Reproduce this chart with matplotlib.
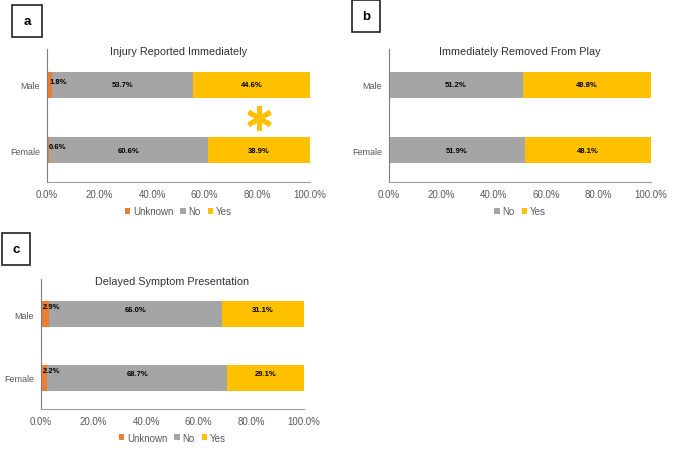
import matplotlib.pyplot as plt

plt.rcParams['font.family'] = ['Liberation Sans', 'DejaVu Sans']

groups = ["Female", "Male"]

# panel a: Injury Reported Immediately
a_unknown = [0.6, 1.8]
a_no = [60.6, 53.7]
a_yes = [38.9, 44.6]

# panel b: Immediately Removed From Play
b_no = [51.9, 51.2]
b_yes = [48.1, 48.8]

# panel c: Delayed Symptom Presentation
c_unknown = [2.2, 2.9]
c_no = [68.7, 66.0]
c_yes = [29.1, 31.1]

ORANGE = "#ED7D31"
GRAY = "#A5A5A5"
YELLOW = "#FFC000"
TXT = "#595959"

W, H = 676, 452
fig = plt.figure(figsize=(W / 100, H / 100), dpi=100)


def px_axes(x0, x1, ytop, ybot):
    return fig.add_axes([x0 / W, 1 - ybot / H, (x1 - x0) / W, (ybot - ytop) / H])


def label_box(x0, x1, ytop, ybot, letter):
    r = plt.Rectangle((x0 / W, 1 - ybot / H), (x1 - x0) / W, (ybot - ytop) / H,
                      transform=fig.transFigure, fill=False, ec="#222222", lw=1.2)
    fig.patches.append(r)
    fig.text((x0 + x1) / 2 / W, 1 - (ytop + ybot) / 2 / H, letter,
             ha="center", va="center", fontsize=9.5, fontweight="bold")


def panel(ax, title, series, names, colors, dy=0.0):
    y = list(range(len(groups)))
    left = [0.0] * len(groups)
    for vals, name, col in zip(series, names, colors):
        ax.barh(y, vals, left=left, height=0.4, color=col, label=name)
        for i, v in enumerate(vals):
            if name == "Unknown":
                ax.annotate(f"{v:.1f}%", (left[i], y[i] + dy + 0.05), xytext=(1.5, 0),
                            textcoords="offset points", ha="left", va="center",
                            fontsize=5.5, fontweight="bold", color="black")
            else:
                ax.text(left[i] + v / 2, y[i] + dy, f"{v:.1f}%", ha="center", va="center",
                        fontsize=5.5, fontweight="bold", color="black")
        left = [l + v for l, v in zip(left, vals)]
    ax.set_xlim(0, 100)
    ax.set_ylim(-0.49, 1.55)
    ax.set_yticks(y)
    ax.set_yticklabels(groups)
    ax.set_xticks(range(0, 101, 20))
    ax.set_xticklabels([f"{t:.1f}%" for t in range(0, 101, 20)])
    ax.tick_params(length=0, labelsize=6.5, labelcolor=TXT, pad=5)
    ax.tick_params(axis="x", labelsize=7)
    for s in ["top", "right"]:
        ax.spines[s].set_visible(False)
    ax.spines["left"].set_color("#7F7F7F")
    ax.spines["bottom"].set_color("#A0A0A0")
    ax.text(0.5, 0.985, title, transform=ax.transAxes, ha="center", va="center",
            fontsize=7.8, color="#303030")
    ax.legend(loc="center", bbox_to_anchor=(0.5, -0.22), ncol=len(names), frameon=False,
              handlelength=0.55, handleheight=0.55, handletextpad=0.3, columnspacing=0.7,
              fontsize=7, labelcolor=TXT)


ax_a = px_axes(47, 310, 50, 183)
panel(ax_a, "Injury Reported Immediately", [a_unknown, a_no, a_yes],
      ["Unknown", "No", "Yes"], [ORANGE, GRAY, YELLOW])
# significance marker
ax_a.plot([80.6], [0.49], marker=(6, 2, 0), markersize=18, mew=3.5,
          color=YELLOW, linestyle="none")
label_box(12, 42, 6, 38, "a")

ax_b = px_axes(389, 651, 50, 183)
panel(ax_b, "Immediately Removed From Play", [b_no, b_yes],
      ["No", "Yes"], [GRAY, YELLOW])
label_box(352, 380, 0.5, 33, "b")

ax_c = px_axes(41, 304, 280, 410)
panel(ax_c, "Delayed Symptom Presentation", [c_unknown, c_no, c_yes],
      ["Unknown", "No", "Yes"], [ORANGE, GRAY, YELLOW], dy=0.07)
label_box(1.5, 30, 234, 266, "c")

fig.savefig("out.png", dpi=100)
